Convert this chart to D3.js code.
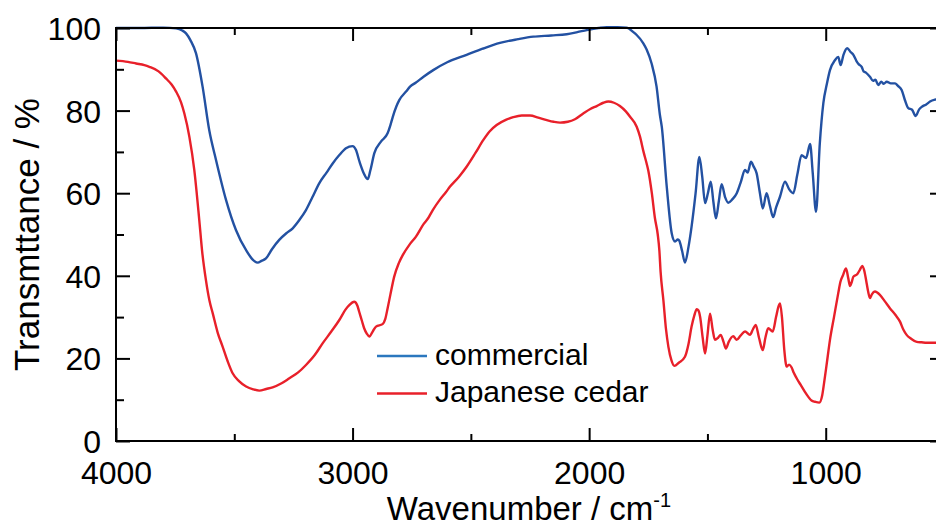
<!DOCTYPE html>
<html>
<head>
<meta charset="utf-8">
<script src="https://cdn.jsdelivr.net/npm/d3@7"></script>
<style>
  html, body { margin: 0; padding: 0; background: #fff; }
  svg { display: block; }
  text { font-family: Arial, "Liberation Sans", Helvetica, sans-serif; fill: #000; }
</style>
</head>
<body>
<svg id="chart" width="936" height="525"></svg>
<script>
// ---- data ----
const commercialWn = [4000,3900,3800,3746,3720,3704,3685,3662,3634,3606,3577,3535,3493,3450,3420,3401,3385,3366,3340,3310,3280,3253,3225,3197,3170,3141,3110,3084,3055,3028,3000,2986,2970,2950,2936,2925,2908,2880,2852,2840,2830,2815,2802,2774,2757,2732,2700,2659,2600,2518,2450,2377,2300,2236,2160,2095,2050,2010,1960,1926,1880,1842,1813,1799,1771,1757,1736,1715,1701,1693,1672,1651,1637,1625,1619,1607,1595,1580,1567,1550,1534,1522,1510,1498,1486,1475,1464,1452,1440,1425,1412,1395,1376,1360,1341,1330,1316,1305,1292,1278,1266,1250,1236,1222,1210,1193,1172,1155,1137,1120,1102,1083,1066,1055,1041,1025,1010,995,982,961,947,937,925,909,895,883,870,860,848,840,830,813,800,790,778,765,755,742,725,707,695,679,665,651,635,620,605,594,575,559,534,500];
const commercialT  = [100,100,100.1,99.9,99.4,98.7,97,93.9,85.8,75.3,68,58.4,51.1,46.2,43.8,43.2,43.6,44.2,46.5,48.7,50.3,51.5,53.5,55.9,59,62.4,65,67.2,69.3,70.9,71.4,70.5,67.5,64.5,63.4,65.5,69.7,72.5,74.5,76.5,78.5,81,82.6,84.6,85.8,86.8,88.2,89.8,91.7,93.5,95,96.4,97.3,97.9,98.2,98.5,99,99.5,100,100.2,100.2,100.1,99,98.3,96.3,94.8,91.4,85.8,79,76.1,61.6,50.3,48.3,48.8,48.5,46,43.2,47,51.9,60,68.8,64,57.6,60,62.8,58,53.9,58,62.2,59,57.7,58.5,60,62.5,65.6,65,67.6,66.5,64.8,60,56.3,60,57,54.2,56.5,59.2,62.8,61,60,64.5,69.2,68.5,71.9,65,55.5,72,81.8,86.5,89.8,92.2,93,91,93.5,95.1,94.2,93.5,92,91.2,90.6,89.5,89.2,88.2,87.2,87.5,86.2,87,86.5,87,86.6,86.6,86,85,82.5,80.6,80.2,78.7,80.3,80.9,81.5,82.2,82.7,83];

const cedarWn = [4000,3950,3915,3880,3859,3820,3789,3765,3746,3725,3711,3690,3669,3648,3636,3620,3605,3591,3570,3549,3528,3507,3480,3450,3420,3394,3365,3338,3300,3267,3230,3197,3160,3126,3090,3056,3030,3014,2993,2980,2972,2960,2951,2940,2929,2915,2901,2873,2862,2852,2840,2824,2805,2788,2760,2732,2700,2680,2661,2630,2605,2588,2550,2518,2480,2447,2420,2391,2350,2321,2285,2250,2215,2179,2150,2123,2090,2060,2025,1995,1968,1940,1919,1895,1870,1845,1827,1799,1785,1770,1757,1750,1735,1722,1710,1703,1698,1686,1675,1665,1652,1640,1620,1595,1580,1567,1555,1545,1538,1531,1520,1510,1500,1489,1478,1468,1455,1444,1432,1422,1410,1391,1377,1360,1341,1320,1308,1296,1282,1266,1255,1243,1224,1210,1200,1193,1185,1175,1165,1155,1144,1135,1123,1105,1088,1075,1060,1045,1027,1015,1007,995,982,965,947,938,928,914,905,897,890,883,867,855,845,836,827,820,813,805,792,771,750,728,705,686,672,658,640,615,595,573,534,500];
const cedarT  = [92.1,91.8,91.4,91,90.6,89.5,87.8,86.3,84.6,82,79.3,73.7,65.6,53.5,46,39,34,30.9,26.2,22.8,19.3,16.4,14.5,13.2,12.5,12.2,12.6,13,14,15.2,16.6,18.4,20.8,23.7,26.5,29.3,31.8,32.9,33.7,32.8,31.3,29,27.3,26,25.3,26.5,27.7,28.3,29.5,32.1,35.5,39.8,43,45,47.5,49.5,52.5,54,55.9,58.5,60.3,61.6,64,66.4,69.8,72.9,75,76.5,77.8,78.4,78.8,78.8,78.3,77.7,77.3,77.1,77.3,77.9,79.3,80.4,81.1,81.9,82.2,81.9,81.1,79.8,78.5,76.1,73.7,70,67.2,65.5,60,54,50,46,41,34,27,22.8,19.5,18.2,19,20.4,23.5,27.7,30.5,31.9,31.6,30.1,25,21.2,25.5,30.8,27,24.5,25,25.7,24,22.4,24,25.4,24.5,25.5,26.5,25.7,27,28.1,25,22,25,27.3,26.5,30,32.5,33.3,30,22,18,18.5,17.8,16.5,15.2,13.5,11.9,10.8,9.8,9.5,9.3,11,14,19,24.5,30,35.8,38.5,40,41.8,39.5,37.5,38.5,39.8,40.4,41.5,42.4,41,38.2,36,34.6,35.5,36.2,35.4,33.8,32.1,30.5,28.9,27,25.7,24.8,24,23.9,23.8,23.8,23.8];

const xMajorTicks = [4000, 3000, 2000, 1000];
const xMinorTicks = [3500, 2500, 1500, 500];
const yMajorTicks = [0, 20, 40, 60, 80, 100];
const yMinorTicks = [10, 30, 50, 70, 90];
const seriesNames = ["commercial", "Japanese cedar"];

// ---- layout ----
const svg = d3.select("#chart");
const L = 116, R = 944, T = 28, B = 441;
const x = d3.scaleLinear().domain([4000, 500]).range([L, R]);
const y = d3.scaleLinear().domain([0, 100]).range([B, T]);

const curveColor = ["#2351a2", "#e8202a"];
const legendColor = ["#2b77be", "#e8202a"];

svg.append("defs").append("clipPath").attr("id", "clip")
  .append("rect").attr("x", L).attr("y", T - 3).attr("width", R - L).attr("height", B - T + 6);

const line = d3.line().x(d => x(d[0])).y(d => y(d[1])).curve(d3.curveMonotoneX);

const g = svg.append("g").attr("clip-path", "url(#clip)");
const sets = [
  d3.zip(commercialWn, commercialT),
  d3.zip(cedarWn, cedarT)
];
// draw cedar first, then commercial
[1, 0].forEach(i => {
  g.append("path").datum(sets[i])
    .attr("fill", "none")
    .attr("stroke", curveColor[i])
    .attr("stroke-width", 2.4)
    .attr("stroke-linejoin", "round")
    .attr("d", line);
});

// ---- axes ----
const MAJ = 13, MIN = 7;
function styleAxis(sel) {
  sel.selectAll("path.domain").remove();
  sel.selectAll(".tick line").attr("stroke", "#000").attr("stroke-width", 2);
}
// bottom
const bx = svg.append("g").attr("transform", `translate(0,${B})`)
  .call(d3.axisBottom(x).tickValues(xMajorTicks).tickSize(-MAJ).tickSizeOuter(0).tickFormat(d3.format("d")));
styleAxis(bx);
bx.selectAll(".tick text").attr("y", 43).attr("dy", 0).attr("font-size", 32)
  .attr("font-family", "Arial, 'Liberation Sans', sans-serif").attr("fill", "#000");
const bxm = svg.append("g").attr("transform", `translate(0,${B})`)
  .call(d3.axisBottom(x).tickValues(xMinorTicks).tickSize(-MIN).tickSizeOuter(0).tickFormat(""));
styleAxis(bxm);
// top
const tx = svg.append("g").attr("transform", `translate(0,${T})`)
  .call(d3.axisTop(x).tickValues(xMajorTicks).tickSize(-MAJ).tickSizeOuter(0).tickFormat(""));
styleAxis(tx);
const txm = svg.append("g").attr("transform", `translate(0,${T})`)
  .call(d3.axisTop(x).tickValues(xMinorTicks).tickSize(-MIN).tickSizeOuter(0).tickFormat(""));
styleAxis(txm);
// left
const ly = svg.append("g").attr("transform", `translate(${L},0)`)
  .call(d3.axisLeft(y).tickValues(yMajorTicks).tickSize(-MAJ - 1).tickSizeOuter(0).tickFormat(d3.format("d")));
styleAxis(ly);
ly.selectAll(".tick text").attr("x", -15).attr("dy", "0.36em").attr("font-size", 32)
  .attr("font-family", "Arial, 'Liberation Sans', sans-serif").attr("fill", "#000");
const lym = svg.append("g").attr("transform", `translate(${L},0)`)
  .call(d3.axisLeft(y).tickValues(yMinorTicks).tickSize(-MIN - 1).tickSizeOuter(0).tickFormat(""));
styleAxis(lym);
// right
const ry = svg.append("g").attr("transform", `translate(${R},0)`)
  .call(d3.axisRight(y).tickValues(yMajorTicks).tickSize(-MAJ - 1).tickSizeOuter(0).tickFormat(""));
styleAxis(ry);
const rym = svg.append("g").attr("transform", `translate(${R},0)`)
  .call(d3.axisRight(y).tickValues(yMinorTicks).tickSize(-MIN - 1).tickSizeOuter(0).tickFormat(""));
styleAxis(rym);

// frame
svg.append("rect").attr("x", L).attr("y", T).attr("width", R - L).attr("height", B - T)
  .attr("fill", "none").attr("stroke", "#000").attr("stroke-width", 2);

// ---- axis titles ----
const xt = svg.append("text").attr("x", (L + R) / 2 - 1).attr("y", 520)
  .attr("text-anchor", "middle").attr("font-size", 33);
xt.append("tspan").text("Wavenumber / cm");
xt.append("tspan").attr("font-size", 20).attr("dy", -13).text("-1");

svg.append("text").attr("transform", `translate(39,${(T + B) / 2}) rotate(-90)`)
  .attr("text-anchor", "middle").attr("font-size", 35).text("Transmttance / %");

// ---- legend ----
const lg = svg.append("g");
[0, 1].forEach(i => {
  const yy = 356 + i * 37.5;
  lg.append("line").attr("x1", 377).attr("x2", 427).attr("y1", yy).attr("y2", yy)
    .attr("stroke", legendColor[i]).attr("stroke-width", 2.6);
  lg.append("text").attr("x", 435).attr("y", yy + 8.5).attr("font-size", 30).text(seriesNames[i]);
});
</script>
</body>
</html>
